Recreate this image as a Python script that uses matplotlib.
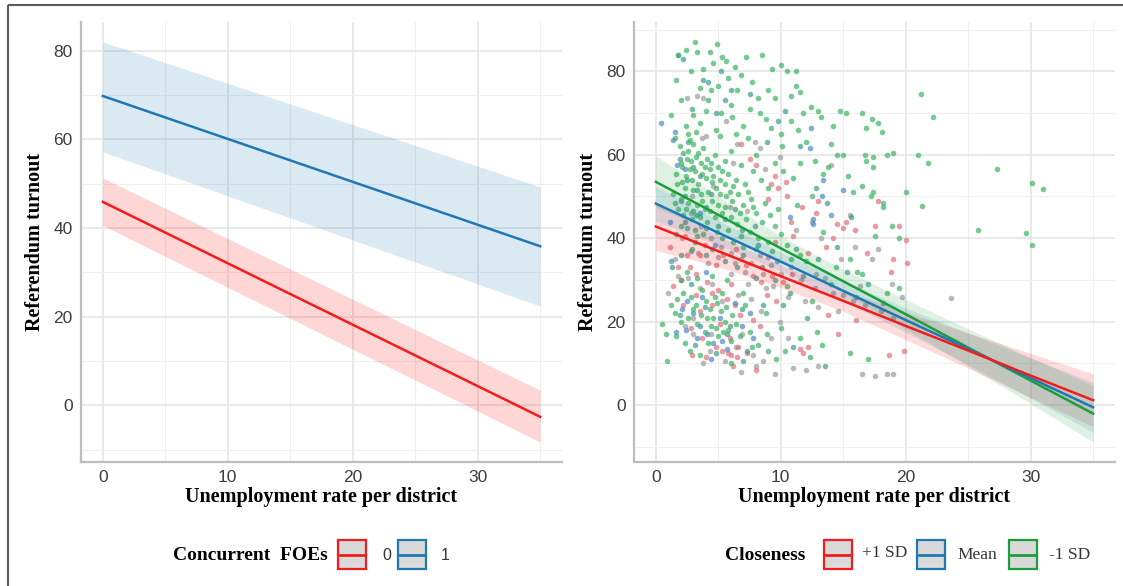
import matplotlib
matplotlib.use('Agg')
import matplotlib.pyplot as plt
from matplotlib.patches import Rectangle
from matplotlib.ticker import MultipleLocator

# ---- left panel: fitted lines by concurrent FOEs ----
left_x = [0, 35]
foe0_fit = [45.9, -2.6]
foe0_lo = [40.6, -8.3]
foe0_hi = [51.3, 3.4]
foe1_fit = [69.8, 35.9]
foe1_lo = [57.2, 22.4]
foe1_hi = [82.0, 49.3]

# ---- right panel: fitted lines by closeness ----
knots = [0, 5, 10, 15, 20, 25, 30, 35]
plus_fit = [42.8, 36.9, 30.9, 25.0, 19.0, 13.1, 7.1, 1.2]
plus_lo = [37.1, 33.2, 28.2, 22.5, 15.7, 8.9, 1.8, -5.1]
plus_hi = [48.5, 40.6, 33.6, 27.5, 22.3, 17.3, 12.4, 7.5]
mean_fit = [48.3, 41.3, 34.4, 27.4, 20.4, 13.5, 6.5, -0.5]
mean_lo = [44.1, 38.3, 32.2, 25.0, 17.5, 9.7, 1.7, -6.5]
mean_hi = [52.5, 44.3, 36.6, 29.8, 23.3, 17.3, 11.3, 5.5]
minus_fit = [53.5, 45.6, 37.6, 29.7, 21.8, 13.8, 5.9, -2.0]
minus_lo = [47.3, 41.2, 34.8, 26.9, 18.3, 9.3, 0.4, -8.8]
minus_hi = [59.7, 50.0, 40.5, 32.5, 25.3, 18.3, 11.4, 4.8]

green_pts = [
    (3.1, 87), (1.8, 84), (2.4, 85), (4.9, 86.5), (4.3, 84.5), (5.3, 83.5), (4.6, 82), (3.3, 84.5),
    (5.6, 82.5), (6.3, 81), (8.5, 84), (7.2, 83.5), (9.3, 80.5), (10, 81.5), (10.5, 80), (11.2, 80),
    (6.8, 79), (3.8, 80.5), (2.8, 80), (5.8, 78.5), (7.7, 77.5), (9, 75.5), (11.2, 76.5), (11.5, 75),
    (10.8, 74), (1.6, 78), (3.5, 76), (5, 76.5), (4.4, 75.5), (6.5, 75.5), (8.2, 73.5), (2, 73),
    (6, 72), (9.5, 73.5), (7.5, 71), (4, 70.5), (5.2, 70), (3, 69.5), (11.8, 70), (12.4, 71.5),
    (13, 70.5), (14.7, 70.5), (15.2, 70), (16.5, 70), (17.3, 68.5), (17.8, 67.5), (16.8, 66.5),
    (18.1, 65.5), (13.2, 69), (14.2, 67), (10.8, 68), (8.8, 68.5), (7, 67), (1.2, 69.5), (2.4, 67),
    (2.6, 65), (1.5, 64), (4.8, 66), (6.4, 65), (9.2, 66.5), (10, 65), (12, 63), (14, 62.5),
    (14.5, 60), (15, 60), (16.7, 60), (17.4, 59.5), (18.5, 60), (19, 60.5), (16.8, 58.5), (17.4, 57),
    (13.8, 57), (13.4, 55.5), (11.5, 58), (21.2, 74.5), (22.2, 69), (21, 60), (21.8, 58), (27.3, 56.5),
    (30.1, 53.2), (31, 51.8), (25.8, 42), (29.6, 41.3), (30.1, 38.5), (20, 51), (21.3, 47.8),
    (17.4, 51), (17.2, 50), (18.2, 48.5), (18.2, 47.5), (16.5, 52.5), (15.8, 51), (19.5, 40),
    (18.9, 43), (17.5, 40.5), (16.1, 32), (15.5, 35),
    (1.9, 62), (2.2, 60.5), (2.5, 59), (2.1, 57), (2.8, 58.5), (3.2, 59.5), (3.6, 58), (3.9, 57),
    (4.3, 56.5), (3.1, 56), (2.4, 55), (2.9, 54), (3.4, 53), (4, 54.5), (4.6, 55), (5.1, 54),
    (5.5, 53), (5.8, 55.5), (6.2, 52.5), (4.8, 52), (4.2, 51), (3.6, 50.5), (3, 51.5), (2.3, 52),
    (1.7, 53), (1.4, 50.5), (2, 49.5), (2.6, 48.5), (3.3, 48), (3.9, 47), (4.5, 49), (5, 48),
    (5.6, 50), (6.1, 49), (6.6, 50.5), (7, 48), (7.4, 51), (7.8, 47.5), (5.3, 46), (4.7, 45),
    (4.1, 44), (3.5, 45), (2.9, 44.5), (2.2, 45.5), (1.8, 47), (6, 45), (6.5, 43.5), (7.2, 44.5),
    (8, 46), (8.5, 44), (9.1, 45.5), (9.5, 43), (5.8, 42), (4.9, 41.5), (3.8, 41), (3.1, 42),
    (2.5, 42.5), (6.8, 40.5), (7.5, 41.5), (8.2, 40), (9, 39), (10, 41), (10.5, 38.5), (11.5, 36),
    (12, 34.5), (8.4, 54), (9, 52), (7.8, 56), (6.8, 57.5), (5.5, 58.5), (4.7, 60), (3.8, 61.5),
    (2.7, 63.5), (3.2, 65.5), (6, 61), (8, 60), (9.5, 58), (10.2, 56), (11, 54.5), (12.5, 50),
    (1.2, 24), (1.5, 22), (2, 20), (0.5, 19.5), (0.8, 17), (1.6, 16.5), (0.9, 10.5), (2.3, 15),
    (2.7, 13), (3.5, 12), (2.8, 26), (3.2, 24), (3.7, 27.5), (4, 25), (4.3, 23), (4.6, 21),
    (4.9, 24.5), (5.2, 22.5), (5.5, 20), (5.8, 18), (4.4, 19), (3.9, 17.5), (4.2, 15), (5, 16.5),
    (6.1, 21.5), (6.4, 19.5), (5.3, 27), (2, 30), (2.5, 32), (3.3, 30.5), (4.5, 31), (5.7, 30),
    (7.5, 17.5), (8.2, 14.5), (9, 13), (6, 10), (10, 18.5), (11.5, 16), (12.3, 11.5), (13.3, 14.5),
    (15.5, 12.5), (17, 11), (8.8, 22), (7, 27), (10.5, 28.5), (12.5, 25), (14, 29), (18.5, 27),
    (19.5, 28), (16.5, 31.5),
    (1.6, 55.5), (2.0, 58), (2.6, 61), (3.0, 62.5), (3.4, 60.5), (4.1, 59), (4.4, 58), (5.0, 57),
    (5.3, 56), (2.7, 56.5), (3.7, 55.5), (4.5, 53.5), (5.9, 51), (6.4, 54), (7.1, 53), (2.1, 53.5),
    (1.5, 48.5), (2.4, 47), (3.0, 46.5), (3.7, 49), (4.3, 46.5), (5.1, 50.5), (5.5, 47.5), (6.7, 46),
    (7.6, 49.5), (8.7, 48.5), (9.8, 47), (4.0, 42.5), (3.3, 40.5), (5.3, 40), (6.2, 39), (7.0, 38),
    (8.0, 37.5), (9.3, 37), (10.8, 35), (2.9, 37.5), (2.0, 43), (1.6, 41), (3.0, 23), (3.6, 21.5),
    (4.7, 26), (5.6, 23.5), (3.3, 19.5), (4.1, 21), (4.8, 18.5), (5.4, 17.5), (6.0, 15.5), (2.2, 27),
    (1.7, 25.5), (2.6, 21), (7.1, 24), (6.7, 16.5), (8.9, 17), (9.6, 11), (10.3, 13), (7.7, 14),
    (12.9, 17.5), (14.4, 33), (13.4, 41.5), (11.3, 48), (10.1, 62), (7.4, 64), (5.1, 64.5),
    (3.5, 67.5), (11.4, 66), (12.7, 58.5), (15.4, 55), (8.3, 70), (6.1, 69), (4.2, 73),
]
teal_pts = [
    (1.8, 84), (2.2, 83), (3.8, 78), (4.2, 77.5), (5.5, 73), (6, 75.5), (4.8, 70), (2.6, 63),
    (1.9, 59), (3, 57), (3.5, 55), (2.3, 50), (4, 47.5), (5, 43), (6.3, 47), (7, 36), (8.5, 33),
    (9.5, 30), (10.7, 27), (11.8, 31), (13, 35), (14.5, 38), (15.3, 32), (17, 29), (18.2, 24.5),
    (16, 26), (6.5, 33), (4.5, 37.5), (3.1, 39), (2, 36), (1.3, 33), (5.7, 17), (7.3, 13),
    (8.6, 24), (11, 14), (13.5, 9.5), (9.8, 68), (11.5, 62), (13.7, 48.5), (15.6, 45), (12.8, 52),
    (8.9, 63),
    (2.5, 54), (3.3, 51.5), (4.4, 50.5), (5.5, 44.5), (6.9, 42), (7.9, 43), (3.2, 45.5), (2.3, 44),
    (4.0, 36), (5.5, 34.5), (8.0, 30.5), (9.7, 34.5), (11.2, 37.5), (2.8, 29), (3.9, 23.5),
    (5.9, 19), (6.9, 23), (1.9, 21.5), (3.1, 14.5), (4.8, 12.5), (7.0, 10.5), (10.2, 24),
    (12.1, 21), (5.2, 80), (7.5, 74.5), (10.3, 70.5), (2.9, 71),
]
grey_pts = [
    (2.5, 73.5), (3.3, 74), (3.8, 73.5), (4, 64.5), (3.7, 64), (5.6, 68), (6.5, 62.5), (7.9, 63),
    (8.3, 61.5), (2.8, 46), (3.6, 43), (4.4, 40), (5.2, 38), (6, 36.5), (6.8, 35), (7.6, 34),
    (8.3, 36), (9.2, 33.5), (10, 31.5), (10.8, 33), (11.6, 30), (12.7, 28), (13.5, 30.5), (14.2, 27),
    (15, 26.5), (15.8, 25), (16.7, 24), (18, 22.5), (19, 21), (23.6, 25.8), (16.5, 7.5), (17.5, 7),
    (18.5, 7.5), (19, 7.5), (11, 9), (12, 8.5), (13, 9.5), (9.5, 7.5), (8, 9.5), (3.8, 10),
    (2.3, 19), (3, 21), (4.4, 17), (6.4, 14), (6.8, 8), (7.8, 12), (9.2, 16), (1, 27), (1.5, 35),
    (2.1, 40), (15.5, 45.5), (17.3, 35), (18.9, 29), (19.7, 26), (14, 57.5), (12.5, 44), (13.2, 40),
    (11.2, 42), (15.9, 38), (17.8, 37.5), (4.5, 29), (6, 31.5), (7.4, 29), (8.8, 28),
    (2.9, 50), (4.6, 52.5), (5.9, 47.5), (7.3, 46.5), (3.4, 36.5), (4.2, 34), (5.0, 35.5),
    (6.3, 34), (7.1, 32), (8.6, 31.5), (9.4, 28.5), (10.6, 26), (11.9, 25), (13.0, 23.5),
    (14.6, 22.5), (2.6, 30.5), (1.8, 31), (3.5, 28), (5.3, 25), (6.6, 26.5), (7.6, 25.5),
    (8.4, 22.5), (3.0, 17), (4.3, 13), (5.5, 10.5), (6.9, 17), (8.6, 10.5), (9.9, 20), (10.6, 16),
    (12.8, 31.5), (14.8, 35), (16.3, 28.5), (6.2, 58), (8.7, 56.5), (9.9, 59.5),
]
red_pts = [
    (6.8, 62.5), (7.5, 59), (9.5, 55), (9.2, 53), (9.8, 52), (10.5, 50), (13, 49), (14.5, 43.5),
    (15.2, 44), (15, 42.5), (14.2, 40), (12.8, 46), (17.8, 49), (17.5, 43), (19.5, 43), (20, 39.5),
    (19, 35), (20.1, 34), (18.8, 32), (19.9, 13), (18.7, 12), (11.5, 13.5), (11.8, 12.5), (12.2, 14),
    (6, 12), (6.5, 11.5), (5.3, 13), (4.8, 14), (5.8, 12.5), (6.3, 24), (6.7, 21.5), (5.7, 25.5),
    (5, 27.5), (4.5, 27), (2, 30), (1.4, 28.5), (2.7, 33), (3.2, 26.5), (7.8, 20.5), (8.3, 19),
    (8, 8.5), (6.2, 9.5), (3.5, 36), (4.8, 33.5), (6.4, 37.5), (7.8, 31), (9, 35.5), (10.2, 29.5),
    (11, 40.5), (12.2, 36.5), (2.3, 40.5), (1.1, 38), (16, 20.5), (3.7, 16), (2.8, 18.5), (9.6, 25),
    (13.8, 21.5), (14.6, 17),
    (2.5, 36), (3.9, 38.5), (5.4, 36), (6.0, 29), (7.2, 33.5), (8.4, 29.5), (9.3, 31), (10.9, 31.5),
    (4.1, 29.5), (3.2, 31.5), (1.8, 33), (2.2, 24), (3.5, 22.5), (4.5, 24), (5.1, 19.5), (5.9, 16),
    (6.6, 14), (7.3, 12.5), (4.0, 11.5), (2.9, 12), (8.9, 26.5), (9.5, 39), (10.8, 44), (11.7, 47.5),
    (13.6, 38), (15.9, 42), (16.9, 36.5), (10.4, 53.5), (8.0, 57.5), (9.0, 49.5),
]
blue_pts = [
    (0.4, 67.5), (1.5, 65.5), (1.4, 63.5), (2.3, 56.5), (1.7, 57.5), (12.3, 61.5), (13.4, 54),
    (12.6, 44.5), (12.6, 43.5), (13.3, 50), (14, 45.5), (2.5, 25), (3, 22), (3.5, 19), (4.1, 17),
    (4.6, 15), (5.3, 15.5), (1.6, 17.5), (2.4, 18), (6.9, 19), (7.5, 22), (7.8, 16), (1.2, 34.5),
    (2.8, 37), (4, 32), (15, 51.5), (3.7, 26), (5.1, 21),
    (2.0, 49), (3.5, 46), (4.7, 38.5), (2.1, 23), (3.3, 16), (4.4, 11), (5.7, 13.5), (6.3, 24.5),
    (8.2, 38.5), (10.7, 45), (1.1, 44), (12.4, 66.5),
]

RED = '#f21c1c'
BLUE = '#1f78b4'
GREEN = '#1a9e3c'
SERIF = 'Liberation Serif'
SANS = 'Liberation Sans'

W, H = 1123, 586
fig = plt.figure(figsize=(W / 100, H / 100), dpi=100)


def style_axes(ax, ylim):
    ax.set_xlim(-1.75, 36.75)
    ax.set_ylim(*ylim)
    ax.xaxis.set_major_locator(MultipleLocator(10))
    ax.xaxis.set_minor_locator(MultipleLocator(5))
    ax.yaxis.set_major_locator(MultipleLocator(20))
    ax.yaxis.set_minor_locator(MultipleLocator(10))
    ax.grid(which='major', color='#e3e3e3', lw=1.1, zorder=0)
    ax.grid(which='minor', color='#efefef', lw=0.8, zorder=0)
    ax.set_axisbelow(True)
    for s in ['top', 'right']:
        ax.spines[s].set_visible(False)
    for s in ['left', 'bottom']:
        ax.spines[s].set_color('#bdbdbd')
        ax.spines[s].set_linewidth(1.6)
    ax.tick_params(which='both', length=0, pad=6, labelsize=12.5, labelcolor='#3d3d3d')
    for lab in ax.get_xticklabels() + ax.get_yticklabels():
        lab.set_fontfamily(SANS)
    ax.set_xlabel('Unemployment rate per district', fontfamily=SERIF, fontweight='bold',
                  fontsize=14.5, labelpad=1)
    ax.set_ylabel('Referendum turnout', fontfamily=SERIF, fontweight='bold', fontsize=14.5,
                  labelpad=6)


# left panel
ax1 = fig.add_axes([81 / W, 1 - 462 / H, 481 / W, 440 / H])
ax1.fill_between(left_x, foe1_lo, foe1_hi, color=BLUE, alpha=0.16, lw=0, zorder=2)
ax1.fill_between(left_x, foe0_lo, foe0_hi, color='#ff0000', alpha=0.16, lw=0, zorder=2)
ax1.plot(left_x, foe1_fit, color=BLUE, lw=1.8, zorder=3)
ax1.plot(left_x, foe0_fit, color=RED, lw=1.8, zorder=3)
style_axes(ax1, (-12.8, 86.5))

# right panel
ax2 = fig.add_axes([634 / W, 1 - 462 / H, 481 / W, 440 / H])
groups = [(grey_pts, '#9c9c9c'), (red_pts, '#e2707a'), (blue_pts, '#4b8cc6'),
          (teal_pts, '#3f9c8a'), (green_pts, '#3cb462')]
for pts, col in groups:
    xs = [p[0] for p in pts]
    ys = [p[1] for p in pts]
    ax2.scatter(xs, ys, s=16, color=col, alpha=0.7, lw=0, zorder=2)
ax2.fill_between(knots, plus_lo, plus_hi, color='#ff0000', alpha=0.14, lw=0, zorder=3)
ax2.fill_between(knots, mean_lo, mean_hi, color=BLUE, alpha=0.14, lw=0, zorder=3)
ax2.fill_between(knots, minus_lo, minus_hi, color=GREEN, alpha=0.14, lw=0, zorder=3)
ax2.plot(knots, minus_fit, color=GREEN, lw=1.8, zorder=4)
ax2.plot(knots, mean_fit, color=BLUE, lw=1.8, zorder=4)
ax2.plot(knots, plus_fit, color=RED, lw=1.8, zorder=4)
style_axes(ax2, (-13.6, 91.8))

# overlay in pixel coordinates for border and legends
ov = fig.add_axes([0, 0, 1, 1], zorder=10)
ov.set_xlim(0, W)
ov.set_ylim(H, 0)
ov.axis('off')
ov.add_patch(Rectangle((7.5, 5), W + 20, H + 20, fill=False, edgecolor='#5a5a5a', lw=1.5))


def legend_key(x, color):
    ov.add_patch(Rectangle((x, 540), 28, 29, facecolor='#d9d9d9', edgecolor=color, lw=1.6))
    ov.plot([x + 2, x + 26], [554.5, 554.5], color=color, lw=2)


ov.text(173, 555, 'Concurrent  FOEs', fontfamily=SERIF, fontweight='bold', fontsize=14,
        va='center', ha='left')
legend_key(338, RED)
ov.text(382, 555, '0', fontfamily=SANS, fontsize=11.5, color='#333333', va='center', ha='left')
legend_key(398, BLUE)
ov.text(441, 555, '1', fontfamily=SANS, fontsize=11.5, color='#333333', va='center', ha='left')

ov.text(725, 555, 'Closeness', fontfamily=SERIF, fontweight='bold', fontsize=14,
        va='center', ha='left')
legend_key(824, RED)
ov.text(862, 553, '+1 SD', fontfamily=SERIF, fontsize=12.5, color='#333333', va='center', ha='left')
legend_key(917, BLUE)
ov.text(957, 555, 'Mean', fontfamily=SERIF, fontsize=12.5, color='#333333', va='center', ha='left')
legend_key(1009, GREEN)
ov.text(1049, 555, '-1 SD', fontfamily=SERIF, fontsize=12.5, color='#333333', va='center', ha='left')

fig.savefig('out.png', dpi=100, facecolor='white')
